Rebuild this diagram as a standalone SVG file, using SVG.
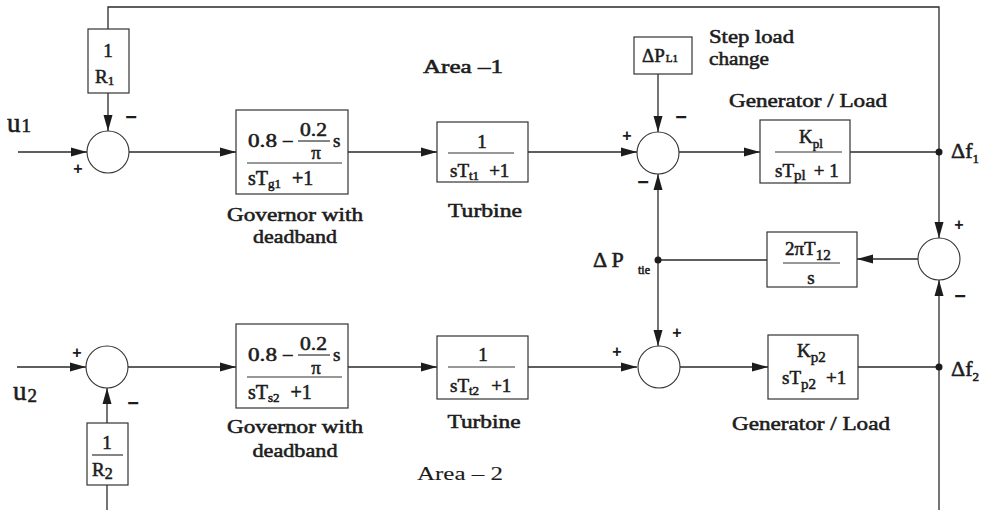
<svg xmlns="http://www.w3.org/2000/svg" width="987" height="510" viewBox="0 0 987 510">
<defs>
<style>
.ln{fill:none;stroke:#2a2a2a;stroke-width:1.3}
.bx{fill:#fff;stroke:#333;stroke-width:1.2}
.sm{fill:#fff;stroke:#333;stroke-width:1.1}
.fl{stroke:#333;stroke-width:1.2}
.t{font-family:"Liberation Serif","Times New Roman",serif;font-weight:normal;fill:#1c1c1c;stroke:#1c1c1c;stroke-width:0.55;font-size:19px}
.c{text-anchor:middle}
.sg{font-family:"Liberation Sans",Arial,sans-serif;font-weight:bold;fill:#1c1c1c;font-size:20px;text-anchor:middle}
.dot{fill:#1c1c1c}
</style>
<marker id="ar" markerWidth="16" markerHeight="10" refX="16" refY="5" orient="auto" markerUnits="userSpaceOnUse">
<path d="M0,0.5 L16,5 L0,9.5 z" fill="#1c1c1c"/>
</marker>
</defs>
<rect width="987" height="510" fill="#fff"/>

<g id="connectors">
<path class="ln" d="M939,152 V7 H108 V29"/>
<path class="ln" d="M108,93 V131" marker-end="url(#ar)"/>
<path class="ln" d="M18,152 H87" marker-end="url(#ar)"/>
<path class="ln" d="M129,152 H236" marker-end="url(#ar)"/>
<path class="ln" d="M348,152 H437" marker-end="url(#ar)"/>
<path class="ln" d="M528,152 H637" marker-end="url(#ar)"/>
<path class="ln" d="M658,74 V132" marker-end="url(#ar)"/>
<path class="ln" d="M679,152 H760" marker-end="url(#ar)"/>
<path class="ln" d="M850,152 H939"/>
<path class="ln" d="M939,152 V238" marker-end="url(#ar)"/>
<path class="ln" d="M918,259 H857" marker-end="url(#ar)"/>
<path class="ln" d="M767,260 H658"/>
<path class="ln" d="M658,260 V174" marker-end="url(#ar)"/>
<path class="ln" d="M658,260 V346" marker-end="url(#ar)"/>
<path class="ln" d="M17,367 H86" marker-end="url(#ar)"/>
<path class="ln" d="M128,367 H236" marker-end="url(#ar)"/>
<path class="ln" d="M348,367 H437" marker-end="url(#ar)"/>
<path class="ln" d="M528,367 H637" marker-end="url(#ar)"/>
<path class="ln" d="M680,367 H768" marker-end="url(#ar)"/>
<path class="ln" d="M858,367 H939"/>
<path class="ln" d="M939,510 V280" marker-end="url(#ar)"/>
<path class="ln" d="M107,423 V388" marker-end="url(#ar)"/>
<path class="ln" d="M107,485 V510"/>
<circle class="dot" cx="939" cy="152" r="3.5"/>
<circle class="dot" cx="939" cy="367" r="3.5"/>
<circle class="dot" cx="658" cy="260" r="3.5"/>
</g>

<g id="inputs">
<text class="t" x="7" y="132" style="font-size:27px">u<tspan font-size="19" dx="1">1</tspan></text>
<text class="t" x="13" y="400" style="font-size:27px">u<tspan font-size="19" dy="2" dx="1">2</tspan></text>
</g>

<g id="R1">
<rect class="bx" x="88" y="29" width="41" height="64"/>
<text class="t c" x="108" y="57">1</text>
<text class="t" x="95" y="83">R<tspan font-size="13" dy="2">1</tspan></text>
</g>

<g id="sum1">
<circle class="sm" cx="108" cy="152" r="21"/>
<text class="sg" x="131" y="124">−</text>
<text class="sg" x="78" y="174" style="font-size:16px">+</text>
</g>

<g id="gov1">
<rect class="bx" x="236" y="110" width="112" height="84"/>
<text class="t" x="248" y="147" textLength="29" lengthAdjust="spacingAndGlyphs">0.8</text>
<text class="t" x="283" y="146">–</text>
<text class="t" x="300" y="136" textLength="27" lengthAdjust="spacingAndGlyphs">0.2</text>
<line class="fl" x1="298" y1="141" x2="330" y2="141"/>
<text class="t c" x="316" y="159">π</text>
<text class="t" x="333" y="147">s</text>
<line class="fl" x1="247" y1="163" x2="342" y2="163"/>
<text class="t" x="248" y="185" style="font-size:20px">sT<tspan font-size="13" dy="3">g1</tspan><tspan dy="-3" dx="11">+1</tspan></text>
<text class="t c" x="295" y="221" textLength="136" lengthAdjust="spacingAndGlyphs">Governor with</text>
<text class="t c" x="295" y="243" textLength="84" lengthAdjust="spacingAndGlyphs">deadband</text>
</g>

<g id="turb1">
<rect class="bx" x="437" y="122" width="91" height="60"/>
<text class="t c" x="482" y="148">1</text>
<line class="fl" x1="448" y1="153" x2="514" y2="153"/>
<text class="t" x="450" y="177">sT<tspan font-size="13" dy="3">t1</tspan><tspan dy="-3" dx="10">+1</tspan></text>
<text class="t c" x="485" y="217" textLength="74" lengthAdjust="spacingAndGlyphs">Turbine</text>
</g>

<text class="t" x="423" y="73" textLength="80" lengthAdjust="spacingAndGlyphs">Area –1</text>

<g id="load1">
<rect class="bx" x="634" y="37" width="58" height="37"/>
<text class="t" x="642" y="62">ΔP<tspan font-size="11" dx="1">L1</tspan></text>
<text class="t" x="709" y="43" textLength="85" lengthAdjust="spacingAndGlyphs">Step load</text>
<text class="t" x="709" y="65" textLength="60" lengthAdjust="spacingAndGlyphs">change</text>
</g>

<g id="sum2">
<circle class="sm" cx="658" cy="153" r="21"/>
<text class="sg" x="681" y="124">−</text>
<text class="sg" x="627" y="141" style="font-size:16px">+</text>
<text class="sg" x="643" y="189">−</text>
</g>

<g id="gen1">
<rect class="bx" x="760" y="120" width="90" height="63"/>
<text class="t" x="799" y="143">K<tspan font-size="13" dy="5">pl</tspan></text>
<line class="fl" x1="775" y1="152" x2="842" y2="152"/>
<text class="t" x="775" y="177">sT<tspan font-size="15" dy="3">pl</tspan><tspan dy="-3" dx="8">+ 1</tspan></text>
<text class="t c" x="808" y="107" textLength="158" lengthAdjust="spacingAndGlyphs">Generator / Load</text>
</g>

<g id="df1">
<text class="t" x="951" y="158" style="font-size:22px">Δf<tspan font-size="13" dy="5">1</tspan></text>
</g>

<g id="sum5">
<circle class="sm" cx="939" cy="259" r="21"/>
<text class="sg" x="959" y="230" style="font-size:16px">+</text>
<text class="sg" x="960" y="303">−</text>
</g>

<g id="tie">
<rect class="bx" x="767" y="232" width="90" height="55"/>
<text class="t" x="785" y="255">2πT<tspan font-size="15" dy="5">12</tspan></text>
<line class="fl" x1="783" y1="263" x2="840" y2="263"/>
<text class="t c" x="811" y="284">s</text>
</g>

<g id="ptie">
<text class="t" x="593" y="267" style="font-size:22px">Δ P</text>
<text class="t" x="638" y="274" style="font-size:12px">tie</text>
</g>

<g id="R2">
<rect class="bx" x="87" y="423" width="41" height="62"/>
<text class="t c" x="107" y="449">1</text>
<line class="fl" x1="92" y1="455" x2="123" y2="455"/>
<text class="t" x="92" y="476">R<tspan font-size="16" dy="3">2</tspan></text>
</g>

<g id="sum3">
<circle class="sm" cx="107" cy="367" r="21"/>
<text class="sg" x="77" y="358" style="font-size:16px">+</text>
<text class="sg" x="133" y="410">−</text>
</g>

<g id="gov2">
<rect class="bx" x="236" y="324" width="112" height="84"/>
<text class="t" x="248" y="361" textLength="29" lengthAdjust="spacingAndGlyphs">0.8</text>
<text class="t" x="283" y="360">–</text>
<text class="t" x="300" y="350" textLength="27" lengthAdjust="spacingAndGlyphs">0.2</text>
<line class="fl" x1="298" y1="355" x2="330" y2="355"/>
<text class="t c" x="316" y="374">π</text>
<text class="t" x="333" y="361">s</text>
<line class="fl" x1="247" y1="377" x2="342" y2="377"/>
<text class="t" x="248" y="399" style="font-size:20px">sT<tspan font-size="13" dy="3">s2</tspan><tspan dy="-3" dx="11">+1</tspan></text>
<text class="t c" x="295" y="433" textLength="136" lengthAdjust="spacingAndGlyphs">Governor with</text>
<text class="t c" x="295" y="457" textLength="85" lengthAdjust="spacingAndGlyphs">deadband</text>
</g>

<g id="turb2">
<rect class="bx" x="437" y="336" width="91" height="63"/>
<text class="t c" x="483" y="361">1</text>
<line class="fl" x1="448" y1="367" x2="515" y2="367"/>
<text class="t" x="450" y="392">sT<tspan font-size="13" dy="3">t2</tspan><tspan dy="-3" dx="12">+1</tspan></text>
<text class="t c" x="484" y="428" textLength="73" lengthAdjust="spacingAndGlyphs">Turbine</text>
</g>

<text class="t" x="417" y="480" style="stroke-width:0.1" textLength="86" lengthAdjust="spacingAndGlyphs">Area – 2</text>

<g id="sum4">
<circle class="sm" cx="659" cy="367" r="21"/>
<text class="sg" x="677" y="338" style="font-size:16px">+</text>
<text class="sg" x="617" y="357" style="font-size:16px">+</text>
</g>

<g id="gen2">
<rect class="bx" x="768" y="335" width="90" height="64"/>
<text class="t" x="797" y="357">K<tspan font-size="15" dy="5">p2</tspan></text>
<text class="t" x="782" y="384">sT<tspan font-size="15" dy="5">p2</tspan><tspan dy="-5" dx="10">+1</tspan></text>
<text class="t c" x="811" y="430" textLength="158" lengthAdjust="spacingAndGlyphs">Generator / Load</text>
</g>

<g id="df2">
<text class="t" x="951" y="376" style="font-size:22px">Δf<tspan font-size="13" dy="5">2</tspan></text>
</g>
</svg>
